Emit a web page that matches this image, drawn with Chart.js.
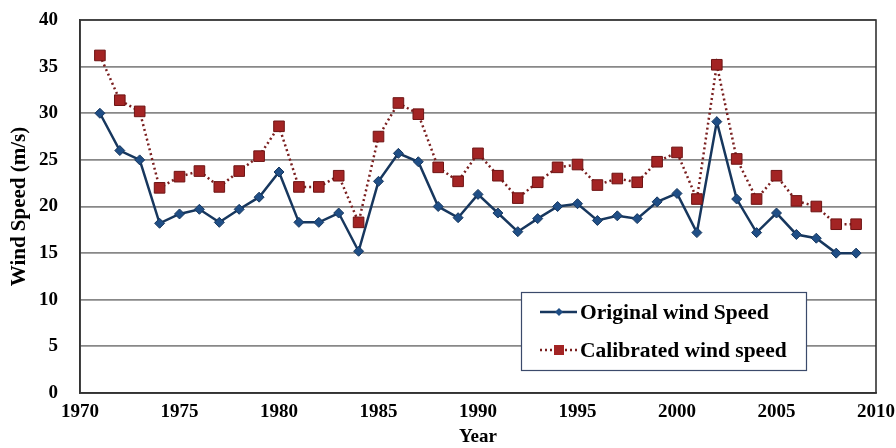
<!DOCTYPE html>
<html>
<head>
<meta charset="utf-8">
<script src="https://cdn.jsdelivr.net/npm/chart.js@4/dist/chart.umd.min.js"></script>
<style>
  html, body { margin: 0; padding: 0; background: #fff; }
  #wrap { width: 896px; height: 448px; position: relative; }
</style>
</head>
<body>
<div id="wrap"><canvas id="c" width="896" height="448"></canvas></div>
<script>
const years = [1971,1972,1973,1974,1975,1976,1977,1978,1979,1980,1981,1982,1983,1984,1985,1986,1987,1988,1989,1990,1991,1992,1993,1994,1995,1996,1997,1998,1999,2000,2001,2002,2003,2004,2005,2006,2007,2008,2009];
const originalSpeed = [30.0,26.0,25.0,18.2,19.2,19.7,18.3,19.7,21.0,23.7,18.3,18.3,19.3,15.2,22.7,25.7,24.8,20.0,18.8,21.3,19.3,17.3,18.7,20.0,20.3,18.5,19.0,18.7,20.5,21.4,17.2,29.1,20.8,17.2,19.3,17.0,16.6,15.0,15.0];
const calibratedSpeed = [36.2,31.4,30.2,22.0,23.2,23.8,22.1,23.8,25.4,28.6,22.1,22.1,23.3,18.3,27.5,31.1,29.9,24.2,22.7,25.7,23.3,20.9,22.6,24.2,24.5,22.3,23.0,22.6,24.8,25.8,20.8,35.2,25.1,20.8,23.3,20.6,20.0,18.1,18.1];
const seriesNames = ['Original wind Speed', 'Calibrated wind speed'];
const xTitle = 'Year';
const yTitle = 'Wind Speed (m/s)';

const FONT = '"Liberation Serif", "Times New Roman", serif';
const NAVY = '#17375E';
const RED_LINE = '#7A1F1F';
const RED_FILL = '#A32424';

const legendPlugin = {
  id: 'boxLegend',
  afterDraw(chart) {
    const ctx = chart.ctx;
    const x0 = 521, y0 = 292, w = 285, h = 78;
    ctx.save();
    ctx.fillStyle = '#fff';
    ctx.fillRect(x0, y0, w, h);
    ctx.strokeStyle = '#3B4A6B';
    ctx.lineWidth = 1.2;
    ctx.strokeRect(x0 + 0.5, y0 + 0.5, w, h);
    const ds = chart.data.datasets;
    const rows = [y0 + 20, y0 + 58];
    ds.forEach((d, i) => {
      const yy = rows[i];
      ctx.beginPath();
      ctx.strokeStyle = d.borderColor;
      ctx.lineWidth = d.borderWidth;
      ctx.setLineDash(d.borderDash || []);
      ctx.moveTo(x0 + 19, yy);
      ctx.lineTo(x0 + 56, yy);
      ctx.stroke();
      ctx.setLineDash([]);
      ctx.fillStyle = d.pointBackgroundColor;
      ctx.beginPath();
      if (d.pointStyle === 'rect') {
        ctx.fillRect(x0 + 33, yy - 5, 10, 10);
      } else {
        ctx.moveTo(x0 + 38, yy - 4); ctx.lineTo(x0 + 42, yy); ctx.lineTo(x0 + 38, yy + 4); ctx.lineTo(x0 + 34, yy); ctx.closePath(); ctx.fill();
      }
      ctx.fillStyle = '#000';
      ctx.font = 'bold 21.5px ' + FONT;
      ctx.textBaseline = 'middle';
      ctx.textAlign = 'left';
      ctx.fillText(d.label, x0 + 59, yy + 1);
    });
    ctx.restore();
  }
};

const frame = {
  id: 'frame',
  beforeDatasetsDraw(chart) {
    const a = chart.chartArea, ctx = chart.ctx;
    ctx.save();
    ctx.strokeStyle = '#333';
    ctx.lineWidth = 1.6;
    ctx.strokeRect(a.left, a.top, a.right - a.left, a.bottom - a.top);
    ctx.restore();
  }
};

new Chart(document.getElementById('c'), {
  type: 'line',
  data: {
    datasets: [
      {
        label: seriesNames[0],
        data: years.map((y, i) => ({ x: y, y: originalSpeed[i] })),
        borderColor: NAVY,
        backgroundColor: NAVY,
        borderWidth: 2.5,
        pointStyle: 'rectRot',
        pointRadius: 5,
        pointBackgroundColor: '#1F4E86',
        pointBorderColor: NAVY,
        pointBorderWidth: 1,
        tension: 0,
        order: 2
      },
      {
        label: seriesNames[1],
        data: years.map((y, i) => ({ x: y, y: calibratedSpeed[i] })),
        borderColor: RED_LINE,
        backgroundColor: RED_FILL,
        borderWidth: 2.5,
        borderDash: [2, 3],
        pointStyle: 'rect',
        pointRadius: 7.5,
        pointBackgroundColor: RED_FILL,
        pointBorderColor: '#6E1414',
        pointBorderWidth: 1,
        tension: 0,
        order: 1
      }
    ]
  },
  options: {
    responsive: false,
    animation: false,
    devicePixelRatio: 1,
    layout: { padding: { top: 20, right: 20, left: 0, bottom: 0 } },
    plugins: { legend: { display: false }, tooltip: { enabled: false } },
    scales: {
      x: {
        type: 'linear',
        min: 1970, max: 2010,
        ticks: { stepSize: 5, color: '#000', font: { family: FONT, size: 19, weight: 'bold' }, padding: 8, maxRotation: 0, callback: v => String(v) },
        grid: { display: false, drawTicks: false },
        border: { display: true, color: '#333', width: 1.6 },
        title: { display: true, text: xTitle, color: '#000', font: { family: FONT, size: 19, weight: 'bold' }, padding: { top: 1, bottom: 0 } },
        afterFit(s) { s.height = 55; s.paddingLeft = 0; s.paddingRight = 0; }
      },
      y: {
        min: 0, max: 40,
        ticks: { stepSize: 5, color: '#000', font: { family: FONT, size: 19, weight: 'bold' }, padding: 22 },
        grid: { color: '#888', lineWidth: 1.8, drawTicks: false },
        border: { display: true, color: '#333', width: 1.6 },
        title: { display: true, text: yTitle, color: '#000', font: { family: FONT, size: 21, weight: 'bold' }, padding: { top: 7, bottom: 0 } },
        afterFit(s) { s.width = 80; s.paddingTop = 0; s.paddingBottom = 0; }
      }
    }
  },
  plugins: [frame, legendPlugin]
});
</script>
</body>
</html>
